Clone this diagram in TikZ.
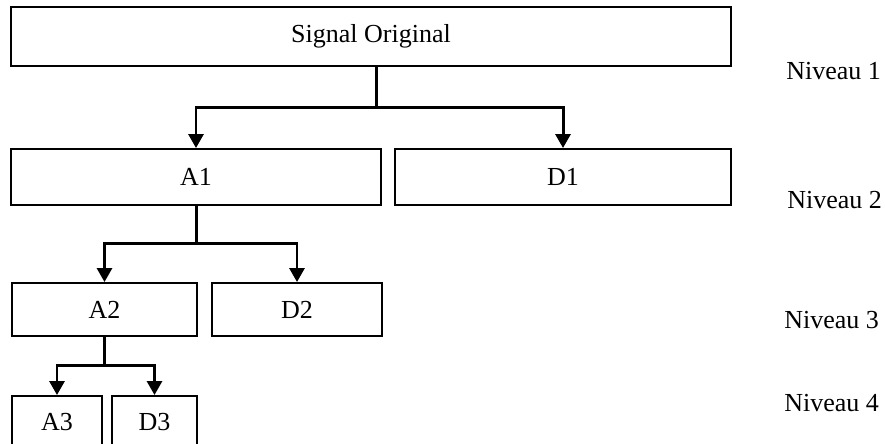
\documentclass[tikz,border=0pt]{standalone}
\usepackage{fontspec}
\setmainfont{Liberation Serif}
\usepackage{tikz}
\usetikzlibrary{calc}
\usetikzlibrary{arrows.meta}
\tikzset{
    common/.style={draw, rectangle, line width=1.1pt, inner sep=0pt, minimum height=1.12cm},
    box/.style={common, minimum width=#1},
    level/.style={anchor=west, inner sep=0pt},
    split/.style={line width=1.7pt},
    >={Triangle[width=0.3cm, length=0.28cm]}
}

\begin{document}
\begin{tikzpicture}[font=\fontsize{14.8}{18}\selectfont]
      \useasboundingbox (0,0) rectangle (17.7,-8.86);

      \path
          (0,0) coordinate (top)
          +(7.42,-0.73) node[box=14.4cm, minimum height=1.18cm] (sig) {Signal Original}
          +(3.92,-3.54) node[box=7.4cm] (a1) {A1}
          +(11.26,-3.54) node[box=6.72cm] (d1) {D1}
          +(2.09,-6.19) node[box=3.7cm, minimum height=1.06cm] (a2) {A2}
          +(5.94,-6.19) node[box=3.4cm, minimum height=1.06cm] (d2) {D2}
          +(1.14,-8.45) node[box=1.8cm, minimum height=1.06cm] (a3) {A3}
          +(3.09,-8.45) node[box=1.7cm, minimum height=1.06cm] (d3) {D3};

      \path
          (top)
          +(15.72,-1.42) node[level] (lvl-1) {Niveau 1}
          +(15.74,-4.0) node[level] (lvl-2) {Niveau 2}
          +(15.68,-6.4) node[level] (lvl-3) {Niveau 3}
          +(15.68,-8.06) node[level] (lvl-4) {Niveau 4};

      \path (sig.south) ++(0.1,0) coordinate (sig-out) ++(0,-0.82) coordinate (sig-split);
      \path (a1.south) ++(0.012,0) coordinate (a1-out) ++(0,-0.76) coordinate (a1-split);
      \path (a2.south) coordinate (a2-out) ++(0,-0.58) coordinate (a2-split);

      \draw[split] (sig-out) -- (sig-split);
      \draw[split] (a1-out) -- (a1-split);
      \draw[split] (a2-out) -- (a2-split);
      \draw[split, ->] (sig-split) -| (a1.north);
      \draw[split, ->] (sig-split) -| (d1.north);
      \draw[split, ->] (a1-split) -| (a2.north);
      \draw[split, ->] (a1-split) -| (d2.north);
      \draw[split, ->] (a2-split) -| (a3.north);
      \draw[split, ->] (a2-split) -| (d3.north);
    \end{tikzpicture}
\end{document}
